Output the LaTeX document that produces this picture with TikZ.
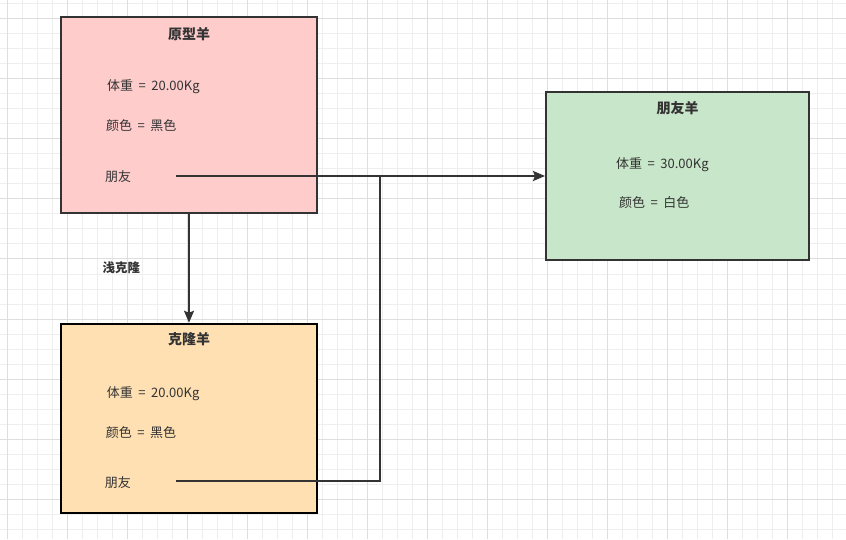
\documentclass[tikz,border=0pt]{standalone}
\usepackage{fontspec}
\usepackage{tikz}
\usetikzlibrary{arrows.meta, positioning, calc}
\newfontfamily\cjk{Noto Sans CJK SC}
\definecolor{inkgrey}{RGB}{51, 51, 51}
\definecolor{gridminor}{RGB}{238, 238, 238}
\definecolor{gridmajor}{RGB}{222, 222, 222}
\definecolor{protopink}{RGB}{255, 204, 204}
\definecolor{clonepeach}{RGB}{255, 224, 178}
\definecolor{friendgreen}{RGB}{200, 230, 201}
\newcommand{\eqsign}{\hspace{5.5pt}=\hspace{5.5pt}}

\begin{document}
\begin{tikzpicture}[x=1pt, y=1pt,
    sheep/.style={rectangle, draw=inkgrey, line width=2pt, inner sep=0pt},
    title/.style={font=\cjk\bfseries\fontsize{14}{16}\selectfont, text=inkgrey, inner sep=0pt},
    attr/.style={font=\cjk\fontsize{13}{15}\selectfont, text=inkgrey, inner sep=0pt, anchor=west},
    link/.style={line width=2pt, inkgrey},
    arrow/.style={-{Stealth[length=12pt, width=10pt, inset=2pt]}, line width=2pt, inkgrey}
]
\useasboundingbox (0,0) rectangle (846,539);

% Grid
\foreach \x in {7,22,...,846}
    \draw[gridminor, line width=1pt] (\x,0) -- (\x,539);
\foreach \y in {10,25,...,539}
    \draw[gridminor, line width=1pt] (0,\y) -- (846,\y);
\foreach \x in {7,67,...,846}
    \draw[gridmajor, line width=1pt] (\x,0) -- (\x,539);
\foreach \y in {40,100,...,539}
    \draw[gridmajor, line width=1pt] (0,\y) -- (846,\y);

% Sheep Boxes
\node (proto)  [sheep, fill=protopink, minimum width=256pt, minimum height=196pt] at (189,424) {};
\node (clone)  [sheep, draw=black, line width=2.5pt, fill=clonepeach, minimum width=256pt, minimum height=189pt] at (189,120.5) {};
\node (friend) [sheep, fill=friendgreen, minimum width=263pt, minimum height=168pt] at (677.5,363) {};

% Prototype Fields
\node (protoT) [title, below=18pt of proto.north, anchor=center] {原型羊};
\node (protoW) [attr, below=71pt of proto.north west, anchor=west, xshift=47pt]  {体重\eqsign 20.00Kg};
\node (protoC) [attr, below=110pt of proto.north west, anchor=west, xshift=46pt] {颜色\eqsign 黑色};
\node (protoF) [attr, below=161pt of proto.north west, anchor=west, xshift=45pt] {朋友};

% Clone Fields
\node (cloneT) [title, below=16pt of clone.north, anchor=center] {克隆羊};
\node (cloneW) [attr, below=71pt of clone.north west, anchor=west, xshift=47pt]  {体重\eqsign 20.00Kg};
\node (cloneC) [attr, below=110pt of clone.north west, anchor=west, xshift=46pt] {颜色\eqsign 黑色};
\node (cloneF) [attr, below=160pt of clone.north west, anchor=west, xshift=45pt] {朋友};

% Friend Fields
\node (friendT) [title, below=17pt of friend.north, anchor=center] {朋友羊};
\node (friendW) [attr, below=74pt of friend.north west, anchor=west, xshift=71pt]  {体重\eqsign 30.00Kg};
\node (friendC) [attr, below=112pt of friend.north west, anchor=west, xshift=74pt] {颜色\eqsign 白色};

% Reference Ends
\coordinate (protoP) at (176,363);
\coordinate (cloneP) at (176,58);
\coordinate (joint)  at (380,363);

% Shallow Copy Arrow
\draw [arrow] (proto.south) -- (clone.north) node[pos=0.49, left=48pt, title, font=\cjk\bfseries\fontsize{12.5}{15}\selectfont] {浅克隆};

% Friend References
\draw [arrow] (protoP) -- (friend.west);
\draw [link] (cloneP) -| (joint);

\end{tikzpicture}
\end{document}
